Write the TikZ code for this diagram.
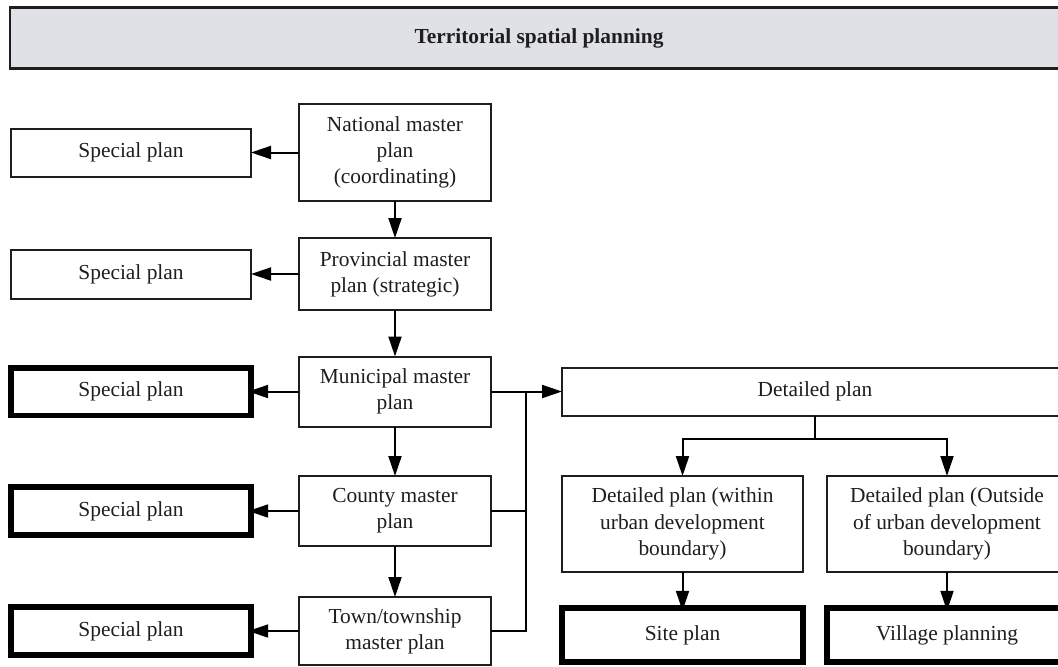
\documentclass[tikz,border=0pt]{standalone}
\usepackage{fontspec}
\setmainfont{Liberation Serif}
\usetikzlibrary{arrows.meta}
\definecolor{bannergray}{HTML}{DFE1E6}
\definecolor{ink}{HTML}{1E1E1E}
\begin{document}
\begin{tikzpicture}[x=0.5pt,y=-0.5pt,
  every node/.style={font=\fontsize{10.7}{13.1}\selectfont, text=ink, align=center, inner sep=0pt, outer sep=0pt},
  thinbox/.style={draw=ink, line width=1pt, rectangle, fill=white},
  thickbox/.style={draw=black, line width=2.8pt, rectangle, fill=white},
  banner/.style={draw=ink, line width=1.3pt, rectangle, fill=bannergray, font=\fontsize{10.7}{13.1}\selectfont\bfseries},
  conn/.style={draw=black, line width=1pt},
  arr/.style={conn, -{Triangle[length=10pt,width=6.5pt]}}
]
\useasboundingbox (0,0) rectangle (1058,666);
\clip (0,0) rectangle (1058,666);

% banner
\node[banner, minimum width=529pt, minimum height=30.5pt] (top) at (539,38) {Territorial spatial planning};

% middle column
\node[thinbox, minimum width=96pt, minimum height=48.5pt] (nat) at (395,152.5) {National master\\plan\\(coordinating)};
\node[thinbox, minimum width=96pt, minimum height=36pt] (prov) at (395,274) {Provincial master\\plan (strategic)};
\node[thinbox, minimum width=96pt, minimum height=35pt] (muni) at (395,391.5) {Municipal master\\plan};
\node[thinbox, minimum width=96pt, minimum height=35pt] (cnty) at (395,511) {County master\\plan};
\node[thinbox, minimum width=96pt, minimum height=34pt] (town) at (395,631) {Town/township\\master plan};

% special plans
\node[thinbox, minimum width=120pt, minimum height=24pt] (sp1) at (131,152.5) {Special plan};
\node[thinbox, minimum width=120pt, minimum height=24.5pt] (sp2) at (131,274) {Special plan};
\node[thickbox, minimum width=120pt, minimum height=23.8pt] (sp3) at (131,391.5) {Special plan};
\node[thickbox, minimum width=120pt, minimum height=23.8pt] (sp4) at (131,511) {Special plan};
\node[thickbox, minimum width=120pt, minimum height=23.8pt] (sp5) at (131,631) {Special plan};

% detailed plans
\node[thinbox, minimum width=253pt, minimum height=24pt] (det) at (815,391.5) {Detailed plan};
\node[thinbox, minimum width=120.5pt, minimum height=48pt] (win) at (682.5,524) {Detailed plan (within\\urban development\\boundary)};
\node[thinbox, minimum width=120pt, minimum height=48pt] (out) at (947,524) {Detailed plan (Outside\\of urban development\\boundary)};
\node[thickbox, minimum width=120.5pt, minimum height=27pt] (site) at (682.5,635) {Site plan};
\node[thickbox, minimum width=120pt, minimum height=27pt] (vil) at (947,635) {Village planning};

% vertical chain
\draw[arr] (nat) -- (prov);
\draw[arr] (prov) -- (muni);
\draw[arr] (muni) -- (cnty);
\draw[arr] (cnty) -- (town);

% to special plans
\draw[arr] (nat.west) -- (sp1.east);
\draw[arr] (prov.west) -- (sp2.east);
\draw[arr] (muni.west) -- ([xshift=-1.4pt]sp3.east);
\draw[arr] (cnty.west) -- ([xshift=-1.4pt]sp4.east);
\draw[arr] (town.west) -- ([xshift=-1.4pt]sp5.east);

% bus to detailed plan
\coordinate (bus) at (526,391.5);
\draw[arr] (muni.east) -- (det.west);
\draw[conn] (town.east) -| (bus);
\draw[conn] (cnty.east) -- (cnty.east -| bus);

% detailed plan branches
\coordinate (dj) at (815,439);
\draw[conn] (det.south) -- (dj);
\draw[arr] (dj) -| (win.north);
\draw[arr] (dj) -| (out.north);
\draw[arr] (win) -- ([yshift=-1.4pt]site.north);
\draw[arr] (out) -- ([yshift=-1.4pt]vil.north);
\end{tikzpicture}
\end{document}
